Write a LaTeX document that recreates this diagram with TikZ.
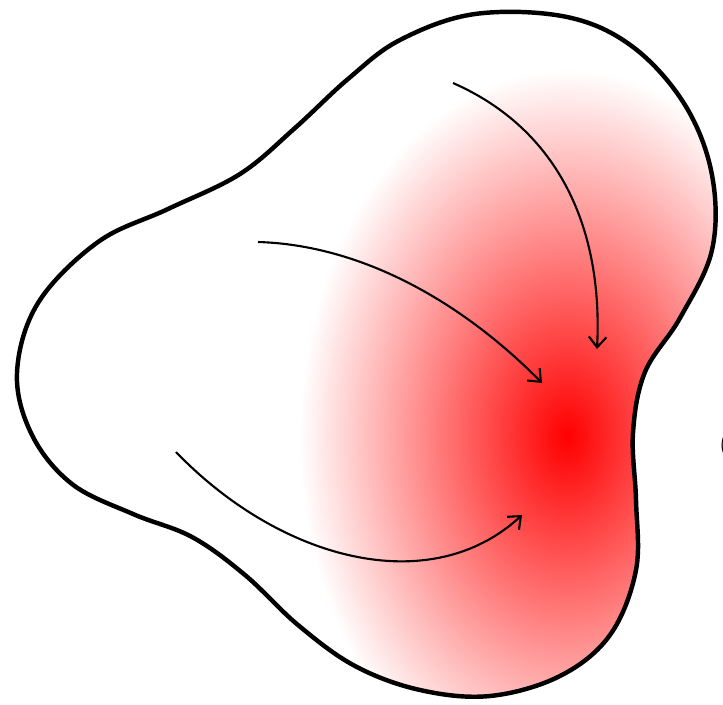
\documentclass[tikz,border=0pt]{standalone}
\usetikzlibrary{arrows.meta}
\tikzset{
  blobline/.style={line width=3.8pt, line join=round},
  flow/.style={line width=1.8pt, -{Straight Barb[length=9pt,width=15pt,line width=1.8pt]}},
}
\begin{document}
\begin{tikzpicture}[x=0.03cm, y=-0.03cm]
\useasboundingbox (0,0) rectangle (723,705);
\def\blob{plot[smooth cycle, tension=0.6] coordinates {
 (17,373) (38,303) (98,242) (168,209) (240,174) (295,128) (348,79) (400,40)
 (475,14) (567,17) (633,47) (685,105) (712,175) (712,250) (680,318)
 (645,372) (633,433) (636,500) (636,570) (610,635) (560,676) (490,696)
 (420,690) (355,666) (298,625) (245,575) (192,537) (133,514) (72,484)
 (32,435)}}
\begin{scope}
  \clip \blob;
  \shade[inner color=red, outer color=white] (567,437) ellipse (268 and 368);
\end{scope}
\draw[blobline] \blob;
\coordinate (a1s) at (453,83);  \coordinate (a1e) at (597,349);
\coordinate (a2s) at (258,242); \coordinate (a2e) at (542,383);
\coordinate (a3s) at (176,452); \coordinate (a3e) at (522,515);
\draw[flow] (a1s) .. controls (560,130) and (603,230) .. (a1e);
\draw[flow] (a2s) .. controls (360,245) and (460,300) .. (a2e);
\draw[flow] (a3s) .. controls (280,560) and (430,600) .. (a3e);
\node[anchor=west, inner sep=0pt, font=\fontsize{24}{28}\selectfont] (cut) at (719,445) {(};
\end{tikzpicture}
\end{document}
